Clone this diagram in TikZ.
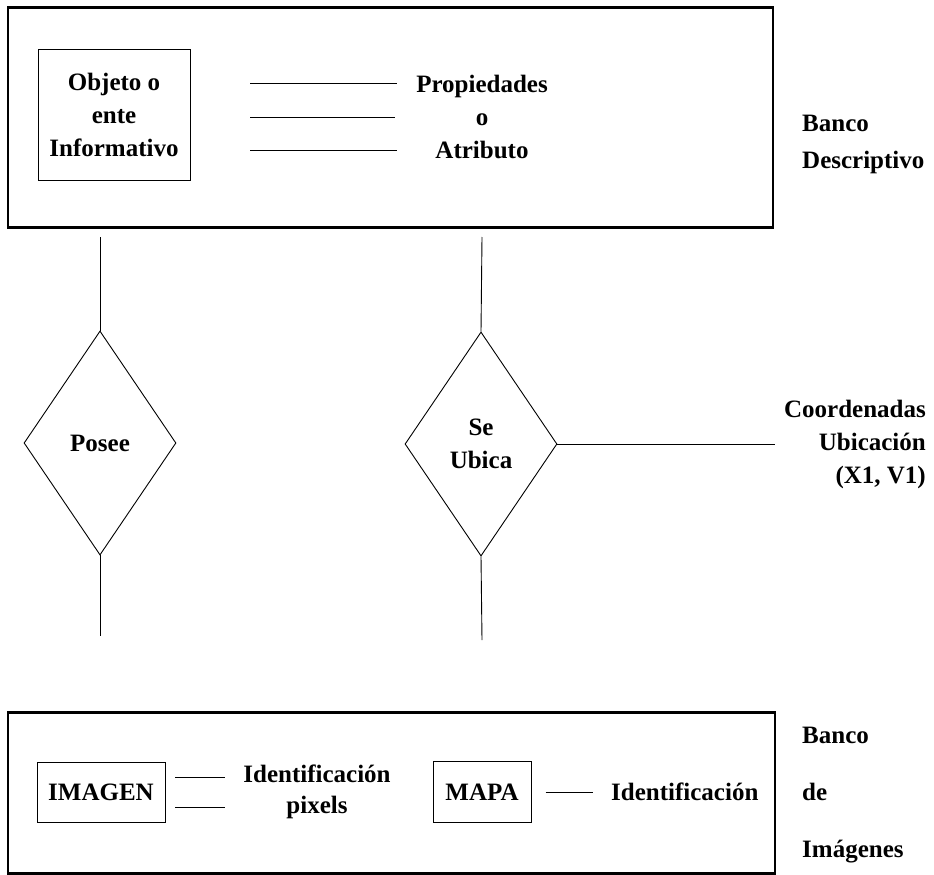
\documentclass[tikz,border=0pt]{standalone}
\usepackage{fontspec}
\setmainfont{Liberation Serif}
\usetikzlibrary{shapes.geometric}
\begin{document}
\begin{tikzpicture}[x=1pt,y=-1pt,
  txt/.style={font=\bfseries\fontsize{25}{33}\selectfont, inner sep=0pt, align=center},
  bank/.style={draw, line width=1.5pt, inner sep=0pt},
  bankedge/.style={line width=2.4pt},
  ent/.style={draw, line width=1pt, inner sep=0pt, txt},
  rel/.style={draw, diamond, line width=0.9pt, inner sep=0pt, minimum width=152pt, minimum height=224pt, txt},
  link/.style={line width=0.9pt}]
\useasboundingbox (0,0) rectangle (934,875);
% top bank
\node[bank, minimum width=765pt, minimum height=219pt] (desc) at (390.5,117.5) {};
\draw[bankedge] (desc.north west) -- (desc.north east);
\draw[bankedge] (desc.south west) -- (desc.south east);
\node[ent, minimum width=152pt, minimum height=130pt] (obj) at (114,115) {Objeto o\\ente\\Informativo};
\node[txt] (prop) at (482,117) {Propiedades\\o\\Atributo};
\coordinate (l1a) at (250,83);  \coordinate (l1b) at (397,83);
\coordinate (l2a) at (250,117); \coordinate (l2b) at (395,117);
\coordinate (l3a) at (250,150); \coordinate (l3b) at (397,150);
\draw[link] (l1a) -- (l1b);
\draw[link] (l2a) -- (l2b);
\draw[link] (l3a) -- (l3b);
\node[txt, align=left, anchor=west, font=\bfseries\fontsize{25}{37}\selectfont] (bdesc) at (802,144) {Banco\\Descriptivo};
% diamonds
\node[rel] (posee) at (100,443) {Posee};
\node[rel] (ubica) at (481,444) {Se\\Ubica};
\coordinate (p1) at (100,237); \coordinate (p2) at (100,636);
\coordinate (u1) at (482,237); \coordinate (u2) at (482,640);
\draw[link] (p1) -- (posee.north);
\draw[link] (posee.south) -- (p2);
\draw[link] (u1) -- (ubica.north);
\draw[link] (ubica.south) -- (u2);
\coordinate (c1) at (775,444);
\draw[link] (ubica.east) -- (c1);
\node[txt, align=right, anchor=east] (coord) at (926,444) {Coordenadas\\Ubicación\\(X1, V1)};
% bottom bank
\node[bank, minimum width=767pt, minimum height=160pt] (img) at (391.5,793) {};
\draw[bankedge] (img.north west) -- (img.north east);
\draw[bankedge] (img.south west) -- (img.south east);
\node[ent, minimum width=128pt, minimum height=60pt] (imagen) at (101,792) {IMAGEN};
\coordinate (i1a) at (175,777); \coordinate (i1b) at (225,777);
\coordinate (i2a) at (175,807); \coordinate (i2b) at (225,807);
\draw[link] (i1a) -- (i1b);
\draw[link] (i2a) -- (i2b);
\node[txt, font=\bfseries\fontsize{25}{31}\selectfont] (idpix) at (317,792) {Identificación\\pixels};
\node[ent, minimum width=98pt, minimum height=61pt] (mapa) at (482,792) {MAPA};
\coordinate (m1) at (593,792);
\node[txt, anchor=west] (idm) at (611,792) {Identificación};
\draw[link] (mapa.east) ++(14,0) coordinate (m0) -- (m1);
\node[txt, align=left, anchor=west, font=\bfseries\fontsize{25}{57}\selectfont] (bimg) at (802,795) {Banco\\de\\Imágenes};
\end{tikzpicture}
\end{document}
